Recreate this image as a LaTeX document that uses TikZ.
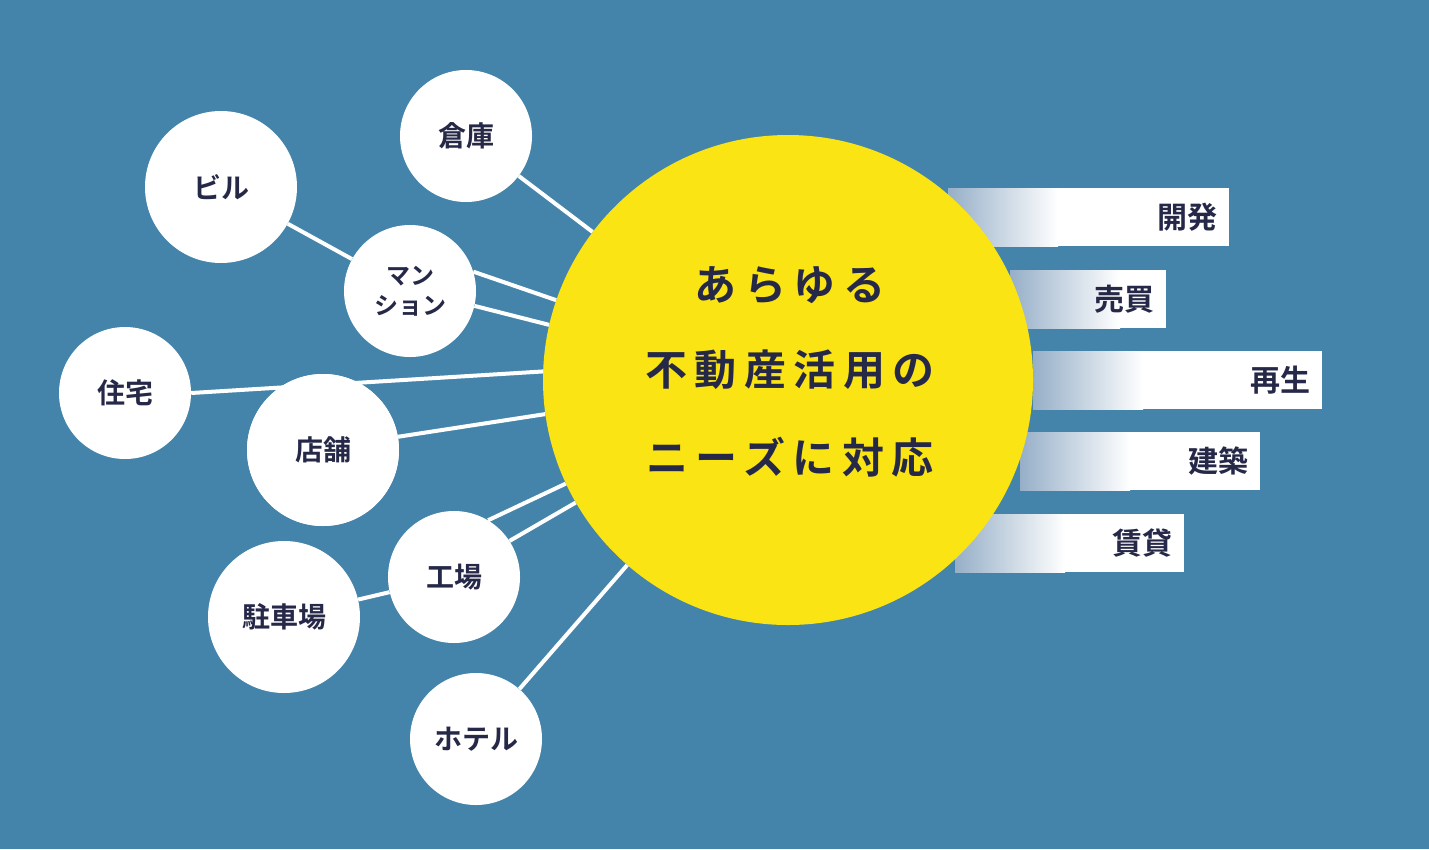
\documentclass[tikz,border=0pt]{standalone}
\usepackage{fontspec}
\setmainfont{Noto Sans CJK JP}[BoldFont={Noto Sans CJK JP Bold}]
\newfontfamily\jpwide{Noto Sans CJK JP Bold}[LetterSpace=18]
\definecolor{seablue}{RGB}{68,132,170}
\definecolor{sunyellow}{RGB}{250,228,20}
\definecolor{inknavy}{RGB}{38,40,72}
\definecolor{tabshade}{RGB}{150,175,200}
\tikzset{
  usecircle/.style={circle, fill=white, minimum size=#1, inner sep=0pt, text=inknavy, font=\fontsize{28}{30}\selectfont\bfseries, align=center},
  link/.style={draw=white, line width=4pt},
  tabtext/.style={anchor=east, text=inknavy, font=\fontsize{30}{32}\selectfont\bfseries}
}
\begin{document}
\begin{tikzpicture}[x=1pt, y=-1pt]
  \fill[seablue] (0,0) rectangle (1429,849);
  \useasboundingbox (0,0) rectangle (1429,849);
  % tabs on the right
  \foreach \xa/\xb/\yy/\word [count=\i] in {948/1229/188/開発, 1010/1166/270/売買, 1033/1322/351/再生, 1020/1260/432/建築, 955/1184/514/賃貸} {
    \fill[white] (\xa,\yy) rectangle (\xb,\yy+58);
    \shade[left color=tabshade, right color=white] (\xa,\yy) rectangle (\xa+110,\yy+58);
    \node[tabtext] (tab\i) at (\xb-8,\yy+29) {\word};
  }
  % centre
  \node[circle, fill=sunyellow, minimum size=490pt, inner sep=0pt] (main) at (788,380) {};
  \node[text=inknavy, font=\fontsize{42}{44}\selectfont\jpwide] (line1) at (790,285) {あらゆる};
  \node[text=inknavy, font=\fontsize{42}{44}\selectfont\jpwide] (line2) at (790,370) {不動産活用の};
  \node[text=inknavy, font=\fontsize{42}{44}\selectfont\jpwide] (line3) at (790,457) {ニーズに対応};
  % uses
  \node[usecircle=132pt] (souko) at (466,136) {倉庫};
  \node[usecircle=152pt] (biru) at (221,187) {ビル};
  \node[usecircle=132pt, font=\fontsize{24}{30}\selectfont\bfseries] (manshon) at (410,291) {マン\\ション};
  \node[usecircle=132pt] (juutaku) at (125,393) {住宅};
  \node[usecircle=152pt] (tenpo) at (323,450) {店舗};
  \node[usecircle=132pt] (koujou) at (454,577) {工場};
  \node[usecircle=152pt] (chuusha) at (284,617) {駐車場};
  \node[usecircle=132pt] (hoteru) at (476,739) {ホテル};
  % connectors
  \begin{scope}[on background layer/.style={}]
  \end{scope}
  \draw[link] (souko) -- (main);
  \draw[link] (biru) -- (manshon);
  \draw[link] (manshon.17) -- (main.161);
  \draw[link] (manshon.-13) -- (main.167);
  \draw[link] (juutaku.east) -- (main.178);
  \draw[link] (tenpo.10) -- (main.188);
  \draw[link] (koujou.59) -- (main.205);
  \draw[link] (koujou.33) -- (main.210);
  \draw[link] (chuusha) -- (koujou);
  \draw[link] (hoteru) -- (main);
  % redraw circles crossed by a line
  \node[usecircle=152pt] at (tenpo) {店舗};
\end{tikzpicture}
\end{document}
